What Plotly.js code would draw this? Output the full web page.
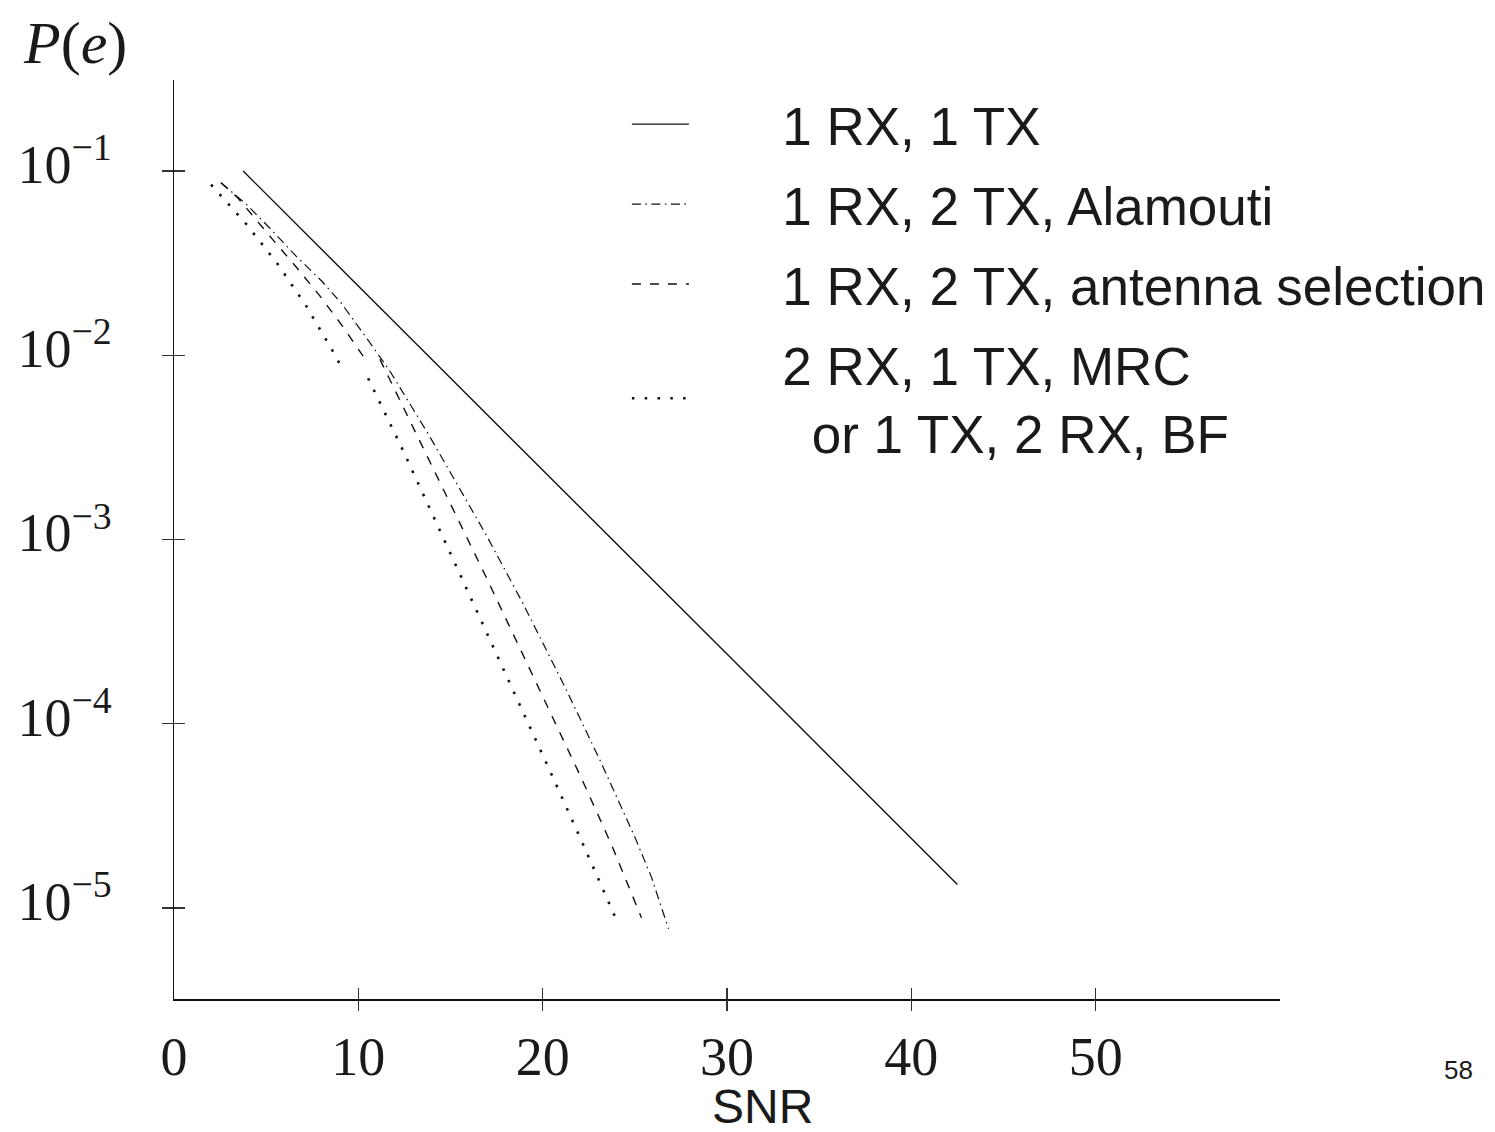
<!DOCTYPE html>
<html><head><meta charset="utf-8">
<script src="https://cdn.plot.ly/plotly-3.0.1.min.js"></script>
<style>html,body{margin:0;padding:0;background:#fff}#chart{width:1495px;height:1132px}</style>
</head><body><div id="chart"></div>
<script>
// ---- data ----
const seriesNames = [
  '1 RX, 1 TX',
  '1 RX, 2 TX, Alamouti',
  '1 RX, 2 TX, antenna selection',
  '2 RX, 1 TX, MRC<br>\u00a0\u00a0or 1 TX, 2 RX, BF'
];

const snrSISO = [3.75, 10, 20, 30, 42.5];
const peSISO  = [0.1, 0.0238, 0.00238, 2.39e-4, 1.34e-5];

const snrAlamouti = [2.55, 3.97, 5.20, 6.65, 8.01, 9.09, 10.35, 11.68, 13.82, 16.91, 18.93, 21.28, 23.09, 24.99, 25.89, 26.83];
const peAlamouti  = [0.0864, 0.0654, 0.0489, 0.0343, 0.0253, 0.0191, 0.0128, 0.0083, 0.0037, 0.00107, 4.5e-4, 1.53e-4, 6.4e-5, 2.44e-5, 1.48e-5, 7.7e-6];

const snrSelection = [2.55, 3.47, 5.30, 6.61, 7.88, 9.14, 10.26, null, 11.17, 11.71, 13.46, 15.19, 16.95, 18.66, 20.38, 22.10, 23.74, 25.36];
const peSelection  = [0.0864, 0.0714, 0.0431, 0.0303, 0.0212, 0.0144, 0.00988, null, 0.00951, 0.00737, 0.00323, 0.00142, 6.2e-4, 2.7e-4, 1.17e-4, 5.07e-5, 2.2e-5, 8.85e-6];

const snrMRC = [2.01, 3.86, 5.58, 7.14, 8.55, 9.20, null, 10.53, 11.13, 11.72, 12.34, 14.94, 16.68, 18.41, 20.42, 22.11, 24.08];
const peMRC  = [0.0843, 0.0524, 0.0317, 0.01875, 0.01081, 0.00822, null, 0.0075, 0.00565, 0.00422, 0.00317, 8.64e-4, 3.62e-4, 1.52e-4, 5.48e-5, 2.31e-5, 8.28e-6];

const xTickVals = [0, 10, 20, 30, 40, 50];
const xTickText = ['0', '10', '20', '30', '40', '50'];
const xTickMarks = [10, 20, 30, 40, 50];
const yTickVals = [1e-1, 1e-2, 1e-3, 1e-4, 1e-5];
const yTickText = ['10<sup>\u22121</sup>', '10<sup>\u22122</sup>', '10<sup>\u22123</sup>', '10<sup>\u22124</sup>', '10<sup>\u22125</sup>'];

// ---- styling ----
const ink = '#111';
const serif = 'Liberation Serif, DejaVu Serif, serif';
const sans = 'Liberation Sans, Arial, sans-serif';
const xRange = [0, 60];
const yRange = [-5.494, -0.506];
const pad = '\u00a0\u00a0\u00a0\u00a0\u00a0\u00a0';

const traces = [
  {x: snrSISO, y: peSISO, name: pad + seriesNames[0], legendgroup: 'g1', mode: 'lines', line: {color: ink, width: 1.4}},
  {x: snrAlamouti, y: peAlamouti, name: pad + seriesNames[1], legendgroup: 'g2', mode: 'lines', line: {color: ink, width: 1.2, dash: '9px,4.5px,1.5px,4.5px'}},
  {x: snrSelection, y: peSelection, name: pad + seriesNames[2], legendgroup: 'g3', mode: 'lines', connectgaps: false, line: {color: ink, width: 1.4, dash: '9px,9px'}},
  {x: snrMRC, y: peMRC, name: pad + seriesNames[3].replace('<br>', '<br>' + pad), legendgroup: 'g4', mode: 'lines', connectgaps: false, line: {color: ink, width: 2.6, dash: '2.5px,10.3px'}},
  // empty carriers so the tick-only overlay axes get drawn
  {x: [], y: [], xaxis: 'x2', yaxis: 'y', showlegend: false, hoverinfo: 'skip'},
  {x: [], y: [], xaxis: 'x3', yaxis: 'y', showlegend: false, hoverinfo: 'skip'},
  {x: [], y: [], xaxis: 'x', yaxis: 'y2', showlegend: false, hoverinfo: 'skip'},
  {x: [], y: [], xaxis: 'x', yaxis: 'y3', showlegend: false, hoverinfo: 'skip'}
];

const tickAxisCommon = {showgrid: false, zeroline: false, showline: false, showticklabels: false, ticklen: 11, tickwidth: 1.3, tickcolor: '#333', tickmode: 'array', fixedrange: true};

const layout = {
  width: 1495, height: 1132,
  margin: {l: 174, r: 215, t: 80, b: 133, autoexpand: false},
  paper_bgcolor: '#fff', plot_bgcolor: '#fff',
  showlegend: true,
  legend: {
    x: 0.4095, y: 0.9965, xanchor: 'left', yanchor: 'top',
    font: {family: sans, size: 53, color: '#1a1a1a'},
    bgcolor: 'rgba(0,0,0,0)', borderwidth: 0, itemwidth: 57,
    traceorder: 'grouped', tracegroupgap: 8
  },
  xaxis: {
    range: xRange, showgrid: false, zeroline: false, showline: true, linecolor: '#111', linewidth: 1.5,
    tickmode: 'array', tickvals: xTickVals, ticktext: xTickText, ticks: '',
    tickfont: {family: serif, size: 54, color: '#1a1a1a'}, ticklabelstandoff: 10
  },
  yaxis: {
    type: 'log', range: yRange, showgrid: false, zeroline: false, showline: true, linecolor: '#111', linewidth: 1.5,
    tickmode: 'array', tickvals: yTickVals, ticktext: yTickText, ticks: '',
    tickfont: {family: serif, size: 54, color: '#1a1a1a'}, ticklabelstandoff: 50, ticklabelshift: -7
  },
  xaxis2: Object.assign({}, tickAxisCommon, {overlaying: 'x', anchor: 'y', side: 'bottom', range: xRange, tickvals: xTickMarks, ticks: 'outside'}),
  xaxis3: Object.assign({}, tickAxisCommon, {overlaying: 'x', anchor: 'y', side: 'bottom', range: xRange, tickvals: xTickMarks, ticks: 'inside'}),
  yaxis2: Object.assign({}, tickAxisCommon, {overlaying: 'y', anchor: 'x', side: 'left', type: 'log', range: yRange, tickvals: yTickVals, ticks: 'outside'}),
  yaxis3: Object.assign({}, tickAxisCommon, {overlaying: 'y', anchor: 'x', side: 'left', type: 'log', range: yRange, tickvals: yTickVals, ticks: 'inside'}),
  annotations: [
    {text: '<i>P</i>(<i>e</i>)', xref: 'paper', yref: 'paper', x: -0.0895, y: 1.04, xanchor: 'center', yanchor: 'middle', showarrow: false, font: {family: serif, size: 60, color: '#1a1a1a'}},
    {text: 'SNR', xref: 'paper', yref: 'paper', x: 0.5325, y: -0.1175, xanchor: 'center', yanchor: 'middle', showarrow: false, font: {family: sans, size: 48, color: '#1a1a1a'}},
    {text: '58', xref: 'paper', yref: 'paper', x: 1.161, y: -0.0773, xanchor: 'center', yanchor: 'middle', showarrow: false, font: {family: sans, size: 26, color: '#1a1a1a'}}
  ]
};

Plotly.newPlot('chart', traces, layout, {staticPlot: true, displayModeBar: false});
</script>
</body></html>
